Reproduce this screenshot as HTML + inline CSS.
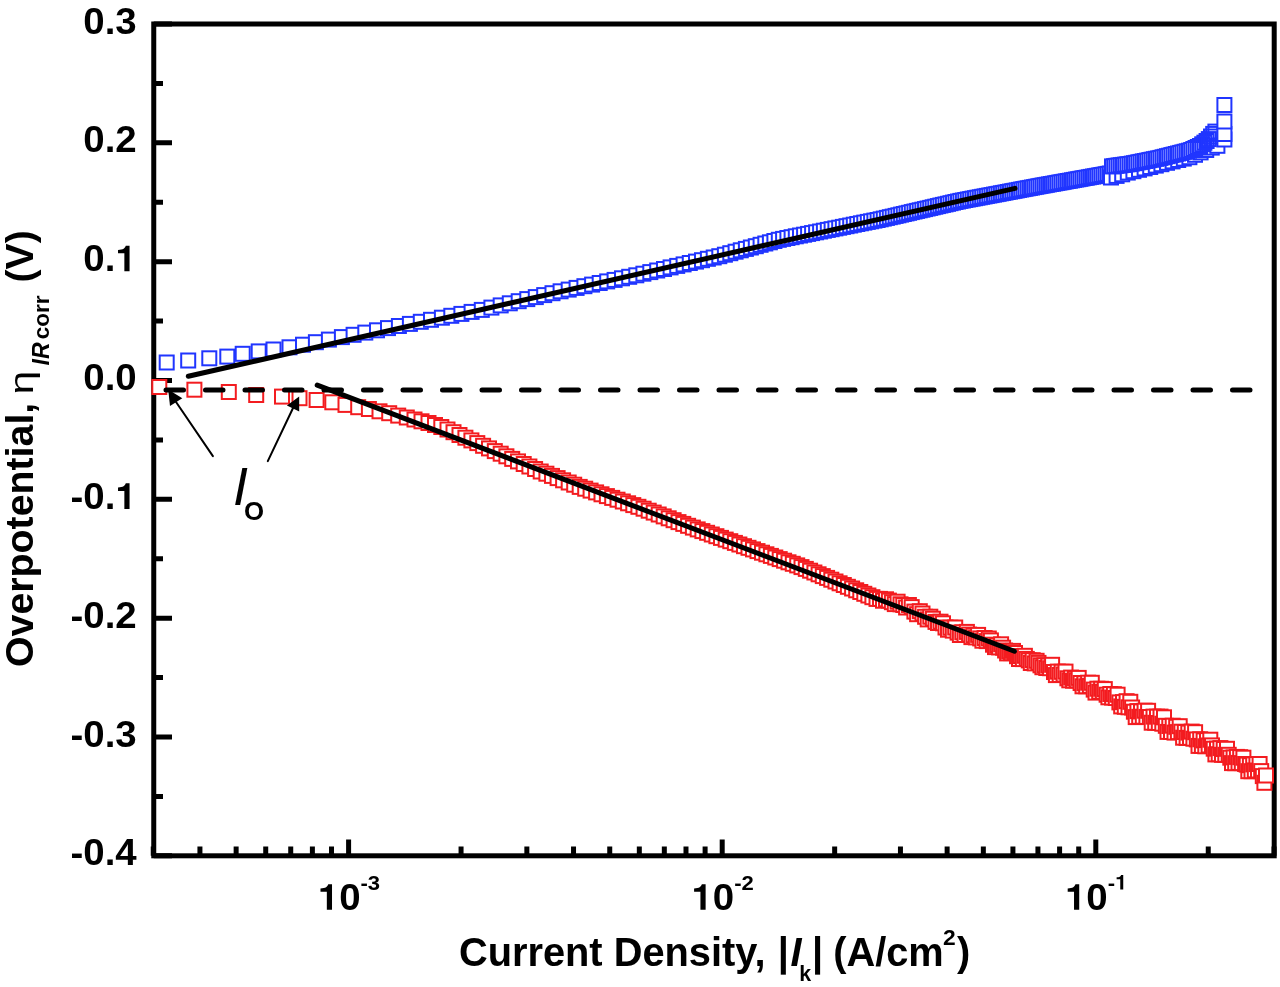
<!DOCTYPE html>
<html><head><meta charset="utf-8"><style>
html,body{margin:0;padding:0;background:#fff;}
body{width:1280px;height:987px;overflow:hidden;}
svg{display:block;}
#w{width:1280px;height:987px;will-change:transform;}
text{font-family:"Liberation Sans",sans-serif;}
</style></head><body><div id="w">
<svg width="1280" height="987" viewBox="0 0 1280 987">
<rect width="1280" height="987" fill="#fff"/>
<rect x="153.75" y="24.00" width="1120.45" height="831.80" fill="none" stroke="#000" stroke-width="5.0"/>
<path d="M153.75 24.00H172M153.75 83.41H163M153.75 142.83H172M153.75 202.24H163M153.75 261.66H172M153.75 321.07H163M153.75 380.49H172M153.75 439.90H163M153.75 499.31H172M153.75 558.73H163M153.75 618.14H172M153.75 677.56H163M153.75 736.97H172M153.75 796.39H163M153.75 855.80H172M153.25 855.80V846.5M199.93 855.80V846.5M236.14 855.80V846.5M265.72 855.80V846.5M290.73 855.80V846.5M312.39 855.80V846.5M331.51 855.80V846.5M348.60 855.80V839.5M461.06 855.80V846.5M526.85 855.80V846.5M573.53 855.80V846.5M609.74 855.80V846.5M639.32 855.80V846.5M664.33 855.80V846.5M685.99 855.80V846.5M705.11 855.80V846.5M722.20 855.80V839.5M834.66 855.80V846.5M900.45 855.80V846.5M947.13 855.80V846.5M983.34 855.80V846.5M1012.92 855.80V846.5M1037.93 855.80V846.5M1059.59 855.80V846.5M1078.71 855.80V846.5M1095.80 855.80V839.5M1208.26 855.80V846.5M1274.05 855.80V846.5" stroke="#000" stroke-width="5" fill="none"/>
<g fill="#fff" stroke="#2035ff" stroke-width="2.0"><rect x="159.7" y="355.5" width="14" height="14"/><rect x="181.2" y="353.5" width="14" height="14"/><rect x="202.3" y="351.3" width="14" height="14"/><rect x="220.3" y="349.6" width="14" height="14"/><rect x="235.7" y="346.8" width="14" height="14"/><rect x="251.7" y="344.4" width="14" height="14"/><rect x="266.5" y="342.5" width="14" height="14"/><rect x="282.5" y="340.3" width="14" height="14"/><rect x="296.0" y="337.7" width="14" height="14"/><rect x="308.9" y="335.2" width="14" height="14"/><rect x="321.9" y="332.6" width="14" height="14"/><rect x="334.9" y="330.1" width="14" height="14"/><rect x="346.6" y="327.8" width="14" height="14"/><rect x="358.3" y="325.6" width="14" height="14"/><rect x="370.0" y="323.3" width="14" height="14"/><rect x="381.0" y="321.1" width="14" height="14"/><rect x="391.9" y="319.0" width="14" height="14"/><rect x="402.9" y="316.9" width="14" height="14"/><rect x="413.8" y="314.8" width="14" height="14"/><rect x="424.0" y="312.8" width="14" height="14"/><rect x="434.9" y="310.7" width="14" height="14"/><rect x="444.3" y="308.8" width="14" height="14"/><rect x="454.4" y="306.9" width="14" height="14"/><rect x="464.6" y="304.9" width="14" height="14"/><rect x="474.8" y="302.9" width="14" height="14"/><rect x="484.4" y="300.6" width="14" height="14"/><rect x="493.7" y="298.4" width="14" height="14"/><rect x="502.8" y="296.3" width="14" height="14"/><rect x="511.7" y="294.2" width="14" height="14"/><rect x="520.3" y="292.1" width="14" height="14"/><rect x="528.8" y="290.1" width="14" height="14"/><rect x="537.2" y="288.1" width="14" height="14"/><rect x="545.5" y="286.2" width="14" height="14"/><rect x="553.6" y="284.3" width="14" height="14"/><rect x="561.7" y="282.6" width="14" height="14"/><rect x="569.6" y="280.9" width="14" height="14"/><rect x="577.4" y="279.2" width="14" height="14"/><rect x="585.1" y="277.6" width="14" height="14"/><rect x="592.7" y="276.0" width="14" height="14"/><rect x="600.2" y="274.4" width="14" height="14"/><rect x="607.6" y="272.9" width="14" height="14"/><rect x="615.0" y="271.3" width="14" height="14"/><rect x="622.2" y="269.8" width="14" height="14"/><rect x="629.3" y="268.3" width="14" height="14"/><rect x="636.4" y="266.7" width="14" height="14"/><rect x="643.3" y="265.1" width="14" height="14"/><rect x="650.2" y="263.5" width="14" height="14"/><rect x="657.0" y="262.0" width="14" height="14"/><rect x="663.6" y="260.4" width="14" height="14"/><rect x="670.2" y="258.9" width="14" height="14"/><rect x="676.6" y="257.4" width="14" height="14"/><rect x="682.8" y="256.0" width="14" height="14"/><rect x="689.0" y="254.6" width="14" height="14"/><rect x="695.0" y="253.2" width="14" height="14"/><rect x="700.9" y="251.8" width="14" height="14"/><rect x="706.7" y="250.5" width="14" height="14"/><rect x="712.3" y="249.2" width="14" height="14"/><rect x="717.9" y="247.7" width="14" height="14"/><rect x="723.3" y="246.2" width="14" height="14"/><rect x="728.6" y="244.7" width="14" height="14"/><rect x="733.8" y="243.3" width="14" height="14"/><rect x="738.9" y="241.9" width="14" height="14"/><rect x="743.9" y="240.5" width="14" height="14"/><rect x="748.8" y="239.2" width="14" height="14"/><rect x="753.6" y="237.8" width="14" height="14"/><rect x="758.3" y="236.5" width="14" height="14"/><rect x="762.9" y="235.3" width="14" height="14"/><rect x="767.4" y="234.0" width="14" height="14"/><rect x="771.8" y="232.8" width="14" height="14"/><rect x="776.1" y="231.9" width="14" height="14"/><rect x="780.4" y="231.0" width="14" height="14"/><rect x="784.6" y="230.2" width="14" height="14"/><rect x="788.8" y="229.3" width="14" height="14"/><rect x="793.0" y="228.5" width="14" height="14"/><rect x="797.1" y="227.7" width="14" height="14"/><rect x="801.1" y="226.9" width="14" height="14"/><rect x="805.1" y="226.1" width="14" height="14"/><rect x="809.1" y="225.3" width="14" height="14"/><rect x="813.1" y="224.5" width="14" height="14"/><rect x="816.9" y="223.7" width="14" height="14"/><rect x="820.8" y="222.9" width="14" height="14"/><rect x="824.6" y="222.2" width="14" height="14"/><rect x="828.4" y="221.4" width="14" height="14"/><rect x="832.2" y="220.7" width="14" height="14"/><rect x="835.9" y="219.9" width="14" height="14"/><rect x="839.5" y="219.2" width="14" height="14"/><rect x="843.2" y="218.5" width="14" height="14"/><rect x="846.8" y="217.7" width="14" height="14"/><rect x="850.3" y="217.0" width="14" height="14"/><rect x="853.9" y="216.3" width="14" height="14"/><rect x="857.3" y="215.6" width="14" height="14"/><rect x="860.8" y="214.9" width="14" height="14"/><rect x="864.1" y="214.3" width="14" height="14"/><rect x="867.4" y="213.6" width="14" height="14"/><rect x="870.6" y="213.0" width="14" height="14"/><rect x="873.7" y="212.3" width="14" height="14"/><rect x="876.8" y="211.6" width="14" height="14"/><rect x="879.9" y="210.9" width="14" height="14"/><rect x="882.8" y="210.2" width="14" height="14"/><rect x="885.7" y="209.6" width="14" height="14"/><rect x="888.6" y="208.9" width="14" height="14"/><rect x="891.4" y="208.3" width="14" height="14"/><rect x="894.1" y="207.6" width="14" height="14"/><rect x="896.8" y="207.0" width="14" height="14"/><rect x="899.5" y="206.4" width="14" height="14"/><rect x="902.1" y="205.8" width="14" height="14"/><rect x="904.8" y="205.1" width="14" height="14"/><rect x="907.5" y="204.5" width="14" height="14"/><rect x="910.1" y="203.9" width="14" height="14"/><rect x="912.7" y="203.3" width="14" height="14"/><rect x="915.4" y="202.7" width="14" height="14"/><rect x="918.0" y="202.1" width="14" height="14"/><rect x="920.6" y="201.5" width="14" height="14"/><rect x="923.2" y="200.9" width="14" height="14"/><rect x="925.7" y="200.3" width="14" height="14"/><rect x="928.3" y="199.7" width="14" height="14"/><rect x="930.9" y="199.1" width="14" height="14"/><rect x="933.4" y="198.5" width="14" height="14"/><rect x="935.9" y="197.9" width="14" height="14"/><rect x="938.5" y="197.4" width="14" height="14"/><rect x="941.0" y="196.8" width="14" height="14"/><rect x="943.5" y="196.2" width="14" height="14"/><rect x="946.0" y="195.6" width="14" height="14"/><rect x="948.5" y="195.0" width="14" height="14"/><rect x="951.0" y="194.5" width="14" height="14"/><rect x="953.4" y="193.9" width="14" height="14"/><rect x="955.9" y="193.5" width="14" height="14"/><rect x="958.3" y="193.0" width="14" height="14"/><rect x="960.8" y="192.5" width="14" height="14"/><rect x="963.2" y="192.1" width="14" height="14"/><rect x="965.6" y="191.6" width="14" height="14"/><rect x="968.0" y="191.2" width="14" height="14"/><rect x="970.4" y="190.7" width="14" height="14"/><rect x="972.8" y="190.3" width="14" height="14"/><rect x="975.2" y="189.8" width="14" height="14"/><rect x="977.6" y="189.4" width="14" height="14"/><rect x="979.9" y="188.9" width="14" height="14"/><rect x="982.3" y="188.5" width="14" height="14"/><rect x="984.6" y="188.1" width="14" height="14"/><rect x="987.0" y="187.6" width="14" height="14"/><rect x="989.3" y="187.2" width="14" height="14"/><rect x="991.6" y="186.8" width="14" height="14"/><rect x="993.9" y="186.3" width="14" height="14"/><rect x="996.2" y="185.9" width="14" height="14"/><rect x="998.5" y="185.5" width="14" height="14"/><rect x="1000.8" y="185.0" width="14" height="14"/><rect x="1003.0" y="184.6" width="14" height="14"/><rect x="1005.3" y="184.2" width="14" height="14"/><rect x="1007.5" y="183.8" width="14" height="14"/><rect x="1009.7" y="183.4" width="14" height="14"/><rect x="1012.0" y="182.9" width="14" height="14"/><rect x="1014.2" y="182.5" width="14" height="14"/><rect x="1016.4" y="182.1" width="14" height="14"/><rect x="1018.5" y="181.7" width="14" height="14"/><rect x="1020.7" y="181.3" width="14" height="14"/><rect x="1022.9" y="180.9" width="14" height="14"/><rect x="1025.0" y="180.5" width="14" height="14"/><rect x="1027.2" y="180.1" width="14" height="14"/><rect x="1029.3" y="179.7" width="14" height="14"/><rect x="1031.4" y="179.3" width="14" height="14"/><rect x="1033.5" y="178.9" width="14" height="14"/><rect x="1035.6" y="178.5" width="14" height="14"/><rect x="1037.7" y="178.2" width="14" height="14"/><rect x="1039.8" y="177.8" width="14" height="14"/><rect x="1041.9" y="177.4" width="14" height="14"/><rect x="1044.0" y="177.0" width="14" height="14"/><rect x="1046.1" y="176.7" width="14" height="14"/><rect x="1048.2" y="176.3" width="14" height="14"/><rect x="1050.3" y="175.9" width="14" height="14"/><rect x="1052.4" y="175.5" width="14" height="14"/><rect x="1054.5" y="175.2" width="14" height="14"/><rect x="1056.6" y="174.8" width="14" height="14"/><rect x="1058.7" y="174.4" width="14" height="14"/><rect x="1060.8" y="174.0" width="14" height="14"/><rect x="1062.9" y="173.7" width="14" height="14"/><rect x="1065.0" y="173.3" width="14" height="14"/><rect x="1067.1" y="172.9" width="14" height="14"/><rect x="1069.2" y="172.5" width="14" height="14"/><rect x="1071.3" y="172.2" width="14" height="14"/><rect x="1073.4" y="171.8" width="14" height="14"/><rect x="1075.5" y="171.4" width="14" height="14"/><rect x="1077.6" y="171.0" width="14" height="14"/><rect x="1079.7" y="170.7" width="14" height="14"/><rect x="1081.8" y="170.3" width="14" height="14"/><rect x="1083.9" y="169.9" width="14" height="14"/><rect x="1086.0" y="169.5" width="14" height="14"/><rect x="1088.1" y="169.2" width="14" height="14"/><rect x="1090.2" y="168.8" width="14" height="14"/><rect x="1092.3" y="168.4" width="14" height="14"/><rect x="1094.4" y="168.0" width="14" height="14"/><rect x="1096.5" y="167.7" width="14" height="14"/><rect x="1098.6" y="167.3" width="14" height="14"/><rect x="1100.7" y="166.9" width="14" height="14"/><rect x="1102.8" y="166.5" width="14" height="14"/><rect x="1104.0" y="170.5" width="14" height="14"/><rect x="1109.6" y="168.9" width="14" height="14"/><rect x="1115.2" y="167.3" width="14" height="14"/><rect x="1120.8" y="165.6" width="14" height="14"/><rect x="1126.4" y="164.2" width="14" height="14"/><rect x="1132.0" y="162.8" width="14" height="14"/><rect x="1137.6" y="161.4" width="14" height="14"/><rect x="1143.2" y="160.0" width="14" height="14"/><rect x="1148.8" y="158.6" width="14" height="14"/><rect x="1154.4" y="157.2" width="14" height="14"/><rect x="1160.0" y="155.8" width="14" height="14"/><rect x="1165.6" y="154.4" width="14" height="14"/><rect x="1171.2" y="153.0" width="14" height="14"/><rect x="1176.8" y="151.6" width="14" height="14"/><rect x="1182.4" y="150.2" width="14" height="14"/><rect x="1188.0" y="147.8" width="14" height="14"/><rect x="1193.6" y="145.4" width="14" height="14"/><rect x="1199.2" y="143.0" width="14" height="14"/><rect x="1204.8" y="140.6" width="14" height="14"/><rect x="1210.4" y="138.8" width="14" height="14"/><rect x="1105.0" y="159.4" width="14" height="14"/><rect x="1107.2" y="159.1" width="14" height="14"/><rect x="1109.4" y="158.8" width="14" height="14"/><rect x="1111.6" y="158.5" width="14" height="14"/><rect x="1113.8" y="158.2" width="14" height="14"/><rect x="1116.0" y="157.9" width="14" height="14"/><rect x="1118.2" y="157.6" width="14" height="14"/><rect x="1120.4" y="157.3" width="14" height="14"/><rect x="1122.6" y="157.1" width="14" height="14"/><rect x="1124.8" y="156.6" width="14" height="14"/><rect x="1127.0" y="156.2" width="14" height="14"/><rect x="1129.2" y="155.8" width="14" height="14"/><rect x="1131.4" y="155.3" width="14" height="14"/><rect x="1133.6" y="154.9" width="14" height="14"/><rect x="1135.8" y="154.4" width="14" height="14"/><rect x="1138.0" y="154.0" width="14" height="14"/><rect x="1140.2" y="153.6" width="14" height="14"/><rect x="1142.4" y="153.1" width="14" height="14"/><rect x="1144.6" y="152.7" width="14" height="14"/><rect x="1146.8" y="152.2" width="14" height="14"/><rect x="1149.0" y="151.8" width="14" height="14"/><rect x="1151.2" y="151.4" width="14" height="14"/><rect x="1153.4" y="150.9" width="14" height="14"/><rect x="1155.6" y="150.3" width="14" height="14"/><rect x="1157.8" y="149.8" width="14" height="14"/><rect x="1160.0" y="149.2" width="14" height="14"/><rect x="1162.2" y="148.7" width="14" height="14"/><rect x="1164.4" y="148.1" width="14" height="14"/><rect x="1166.6" y="147.6" width="14" height="14"/><rect x="1168.8" y="147.0" width="14" height="14"/><rect x="1171.0" y="146.5" width="14" height="14"/><rect x="1173.2" y="145.9" width="14" height="14"/><rect x="1175.4" y="145.4" width="14" height="14"/><rect x="1177.6" y="144.8" width="14" height="14"/><rect x="1179.8" y="144.3" width="14" height="14"/><rect x="1182.0" y="143.7" width="14" height="14"/><rect x="1184.2" y="143.0" width="14" height="14"/><rect x="1186.4" y="142.0" width="14" height="14"/></g>
<g fill="none" stroke="#2035ff" stroke-width="2.0"><rect x="1188.6" y="141.0" width="14" height="14"/><rect x="1190.8" y="140.0" width="14" height="14"/><rect x="1193.0" y="139.0" width="14" height="14"/><rect x="1195.2" y="137.3" width="14" height="14"/><rect x="1197.4" y="135.7" width="14" height="14"/><rect x="1199.6" y="134.0" width="14" height="14"/><rect x="1201.8" y="132.1" width="14" height="14"/><rect x="1204.0" y="129.5" width="14" height="14"/><rect x="1206.2" y="126.9" width="14" height="14"/><rect x="1208.4" y="124.6" width="14" height="14"/></g>
<g fill="#fff" stroke="#2035ff" stroke-width="2.0"><rect x="1217.4" y="132.5" width="14" height="14"/><rect x="1217.4" y="127.0" width="14" height="14"/><rect x="1217.4" y="114.5" width="14" height="14"/><rect x="1217.4" y="98.0" width="14" height="14"/></g>
<g fill="#fff" stroke="#f31c20" stroke-width="2.0"><rect x="152.3" y="380.0" width="14" height="14"/><rect x="187.4" y="382.7" width="14" height="14"/><rect x="221.8" y="385.0" width="14" height="14"/><rect x="249.2" y="388.0" width="14" height="14"/><rect x="275.0" y="389.6" width="14" height="14"/><rect x="292.5" y="391.2" width="14" height="14"/><rect x="309.6" y="393.0" width="14" height="14"/><rect x="325.3" y="395.3" width="14" height="14"/><rect x="338.5" y="397.9" width="14" height="14"/><rect x="351.2" y="400.2" width="14" height="14"/><rect x="361.9" y="402.0" width="14" height="14"/><rect x="372.5" y="404.3" width="14" height="14"/><rect x="382.2" y="406.2" width="14" height="14"/><rect x="391.2" y="408.6" width="14" height="14"/><rect x="399.8" y="410.5" width="14" height="14"/><rect x="407.5" y="412.5" width="14" height="14"/><rect x="414.5" y="414.3" width="14" height="14"/><rect x="421.5" y="416.0" width="14" height="14"/><rect x="428.0" y="418.0" width="14" height="14"/><rect x="434.3" y="420.0" width="14" height="14"/><rect x="440.5" y="422.5" width="14" height="14"/><rect x="446.5" y="425.2" width="14" height="14"/><rect x="452.5" y="428.0" width="14" height="14"/><rect x="458.4" y="430.7" width="14" height="14"/><rect x="464.4" y="433.4" width="14" height="14"/><rect x="470.3" y="436.1" width="14" height="14"/><rect x="476.1" y="438.8" width="14" height="14"/><rect x="482.0" y="441.4" width="14" height="14"/><rect x="487.8" y="444.1" width="14" height="14"/><rect x="493.7" y="446.7" width="14" height="14"/><rect x="499.4" y="449.3" width="14" height="14"/><rect x="505.2" y="451.9" width="14" height="14"/><rect x="511.0" y="454.4" width="14" height="14"/><rect x="516.7" y="457.0" width="14" height="14"/><rect x="522.4" y="459.5" width="14" height="14"/><rect x="528.1" y="462.0" width="14" height="14"/><rect x="533.7" y="464.5" width="14" height="14"/><rect x="539.4" y="466.7" width="14" height="14"/><rect x="545.0" y="468.9" width="14" height="14"/><rect x="550.6" y="471.1" width="14" height="14"/><rect x="556.1" y="473.3" width="14" height="14"/><rect x="561.7" y="475.5" width="14" height="14"/><rect x="567.2" y="477.7" width="14" height="14"/><rect x="572.7" y="479.9" width="14" height="14"/><rect x="578.2" y="481.7" width="14" height="14"/><rect x="583.6" y="483.6" width="14" height="14"/><rect x="589.1" y="485.4" width="14" height="14"/><rect x="594.5" y="487.3" width="14" height="14"/><rect x="599.9" y="489.1" width="14" height="14"/><rect x="605.2" y="490.9" width="14" height="14"/><rect x="610.5" y="492.7" width="14" height="14"/><rect x="615.8" y="494.5" width="14" height="14"/><rect x="621.1" y="496.3" width="14" height="14"/><rect x="626.3" y="498.1" width="14" height="14"/><rect x="631.4" y="499.8" width="14" height="14"/><rect x="636.6" y="501.7" width="14" height="14"/><rect x="641.7" y="503.7" width="14" height="14"/><rect x="646.7" y="505.6" width="14" height="14"/><rect x="651.7" y="507.5" width="14" height="14"/><rect x="656.7" y="509.4" width="14" height="14"/><rect x="661.7" y="511.3" width="14" height="14"/><rect x="666.6" y="513.2" width="14" height="14"/><rect x="671.5" y="515.1" width="14" height="14"/><rect x="676.3" y="516.9" width="14" height="14"/><rect x="681.1" y="518.8" width="14" height="14"/><rect x="685.9" y="520.6" width="14" height="14"/><rect x="690.7" y="522.4" width="14" height="14"/><rect x="695.4" y="524.1" width="14" height="14"/><rect x="700.1" y="525.8" width="14" height="14"/><rect x="704.8" y="527.5" width="14" height="14"/><rect x="709.4" y="529.2" width="14" height="14"/><rect x="714.0" y="530.9" width="14" height="14"/><rect x="718.7" y="532.6" width="14" height="14"/><rect x="723.3" y="534.2" width="14" height="14"/><rect x="727.9" y="535.9" width="14" height="14"/><rect x="732.4" y="537.5" width="14" height="14"/><rect x="737.0" y="539.2" width="14" height="14"/><rect x="741.5" y="540.8" width="14" height="14"/><rect x="746.0" y="542.4" width="14" height="14"/><rect x="750.5" y="544.1" width="14" height="14"/><rect x="755.0" y="545.7" width="14" height="14"/><rect x="759.4" y="547.3" width="14" height="14"/><rect x="763.9" y="548.9" width="14" height="14"/><rect x="768.3" y="550.5" width="14" height="14"/><rect x="772.7" y="552.1" width="14" height="14"/><rect x="777.1" y="553.7" width="14" height="14"/><rect x="781.5" y="555.3" width="14" height="14"/><rect x="785.8" y="556.8" width="14" height="14"/><rect x="790.2" y="558.4" width="14" height="14"/><rect x="794.5" y="560.1" width="14" height="14"/><rect x="798.8" y="561.9" width="14" height="14"/><rect x="803.1" y="563.7" width="14" height="14"/><rect x="807.4" y="565.5" width="14" height="14"/><rect x="811.6" y="567.3" width="14" height="14"/><rect x="815.8" y="569.1" width="14" height="14"/><rect x="820.1" y="570.9" width="14" height="14"/><rect x="824.3" y="572.7" width="14" height="14"/><rect x="828.5" y="574.5" width="14" height="14"/><rect x="832.6" y="576.3" width="14" height="14"/><rect x="836.8" y="578.0" width="14" height="14"/><rect x="840.9" y="579.8" width="14" height="14"/><rect x="845.1" y="581.5" width="14" height="14"/><rect x="849.2" y="583.3" width="14" height="14"/><rect x="853.3" y="585.0" width="14" height="14"/><rect x="857.3" y="586.8" width="14" height="14"/><rect x="861.4" y="588.5" width="14" height="14"/><rect x="865.4" y="590.2" width="14" height="14"/><rect x="869.5" y="591.9" width="14" height="14"/><rect x="873.0" y="591.9" width="14" height="14"/><rect x="876.0" y="593.7" width="14" height="14"/><rect x="879.0" y="592.3" width="14" height="14"/><rect x="881.9" y="593.6" width="14" height="14"/><rect x="884.9" y="595.2" width="14" height="14"/><rect x="887.8" y="597.1" width="14" height="14"/><rect x="890.6" y="594.7" width="14" height="14"/><rect x="893.5" y="597.3" width="14" height="14"/><rect x="896.3" y="598.0" width="14" height="14"/><rect x="899.1" y="600.5" width="14" height="14"/><rect x="901.9" y="598.0" width="14" height="14"/><rect x="904.7" y="600.1" width="14" height="14"/><rect x="907.4" y="604.6" width="14" height="14"/><rect x="910.1" y="607.2" width="14" height="14"/><rect x="912.8" y="604.2" width="14" height="14"/><rect x="915.5" y="606.5" width="14" height="14"/><rect x="918.1" y="609.8" width="14" height="14"/><rect x="920.7" y="612.4" width="14" height="14"/><rect x="923.3" y="609.7" width="14" height="14"/><rect x="925.9" y="611.7" width="14" height="14"/><rect x="928.5" y="614.9" width="14" height="14"/><rect x="931.0" y="616.0" width="14" height="14"/><rect x="933.5" y="614.7" width="14" height="14"/><rect x="936.0" y="616.3" width="14" height="14"/><rect x="938.5" y="620.5" width="14" height="14"/><rect x="941.0" y="622.7" width="14" height="14"/><rect x="943.4" y="620.7" width="14" height="14"/><rect x="945.8" y="623.6" width="14" height="14"/><rect x="948.2" y="620.5" width="14" height="14"/><rect x="950.6" y="625.6" width="14" height="14"/><rect x="952.9" y="628.0" width="14" height="14"/><rect x="955.3" y="625.3" width="14" height="14"/><rect x="957.6" y="627.9" width="14" height="14"/><rect x="959.9" y="624.9" width="14" height="14"/><rect x="962.1" y="627.6" width="14" height="14"/><rect x="964.4" y="630.1" width="14" height="14"/><rect x="966.6" y="628.3" width="14" height="14"/><rect x="968.9" y="630.4" width="14" height="14"/><rect x="971.1" y="627.9" width="14" height="14"/><rect x="973.2" y="631.4" width="14" height="14"/><rect x="975.4" y="633.7" width="14" height="14"/><rect x="977.6" y="631.0" width="14" height="14"/><rect x="979.7" y="634.1" width="14" height="14"/><rect x="981.8" y="631.5" width="14" height="14"/><rect x="983.9" y="633.4" width="14" height="14"/><rect x="986.0" y="637.7" width="14" height="14"/><rect x="988.0" y="640.1" width="14" height="14"/><rect x="990.1" y="638.0" width="14" height="14"/><rect x="992.1" y="640.4" width="14" height="14"/><rect x="994.1" y="637.3" width="14" height="14"/><rect x="996.1" y="640.7" width="14" height="14"/><rect x="998.1" y="643.5" width="14" height="14"/><rect x="1000.1" y="646.4" width="14" height="14"/><rect x="1002.1" y="644.3" width="14" height="14"/><rect x="1004.1" y="646.1" width="14" height="14"/><rect x="1006.0" y="643.9" width="14" height="14"/><rect x="1008.0" y="646.0" width="14" height="14"/><rect x="1010.0" y="649.2" width="14" height="14"/><rect x="1012.0" y="652.0" width="14" height="14"/><rect x="1013.9" y="649.1" width="14" height="14"/><rect x="1015.9" y="652.1" width="14" height="14"/><rect x="1017.9" y="648.8" width="14" height="14"/><rect x="1019.8" y="651.9" width="14" height="14"/><rect x="1021.8" y="653.4" width="14" height="14"/><rect x="1023.8" y="656.0" width="14" height="14"/><rect x="1025.7" y="653.2" width="14" height="14"/><rect x="1027.7" y="656.4" width="14" height="14"/><rect x="1029.6" y="653.8" width="14" height="14"/><rect x="1031.5" y="655.9" width="14" height="14"/><rect x="1033.5" y="658.3" width="14" height="14"/><rect x="1035.4" y="660.2" width="14" height="14"/><rect x="1037.4" y="658.3" width="14" height="14"/><rect x="1039.3" y="661.0" width="14" height="14"/><rect x="1041.2" y="658.6" width="14" height="14"/><rect x="1043.1" y="661.2" width="14" height="14"/><rect x="1045.1" y="657.8" width="14" height="14"/><rect x="1047.0" y="665.0" width="14" height="14"/><rect x="1048.9" y="668.1" width="14" height="14"/><rect x="1050.8" y="664.6" width="14" height="14"/><rect x="1052.7" y="667.9" width="14" height="14"/><rect x="1054.6" y="664.8" width="14" height="14"/><rect x="1056.6" y="667.5" width="14" height="14"/><rect x="1058.5" y="664.6" width="14" height="14"/><rect x="1060.4" y="671.3" width="14" height="14"/><rect x="1062.3" y="673.3" width="14" height="14"/><rect x="1064.1" y="670.6" width="14" height="14"/><rect x="1066.0" y="673.7" width="14" height="14"/><rect x="1067.9" y="671.4" width="14" height="14"/><rect x="1069.8" y="673.3" width="14" height="14"/><rect x="1071.7" y="670.9" width="14" height="14"/><rect x="1073.6" y="676.0" width="14" height="14"/><rect x="1075.5" y="679.3" width="14" height="14"/><rect x="1077.3" y="676.3" width="14" height="14"/><rect x="1079.2" y="679.3" width="14" height="14"/><rect x="1081.1" y="675.7" width="14" height="14"/><rect x="1082.9" y="678.8" width="14" height="14"/><rect x="1084.8" y="675.8" width="14" height="14"/><rect x="1086.7" y="682.6" width="14" height="14"/><rect x="1088.5" y="685.6" width="14" height="14"/><rect x="1090.4" y="681.7" width="14" height="14"/><rect x="1092.2" y="684.7" width="14" height="14"/><rect x="1094.1" y="681.8" width="14" height="14"/><rect x="1095.9" y="684.7" width="14" height="14"/><rect x="1097.8" y="682.1" width="14" height="14"/><rect x="1099.6" y="687.7" width="14" height="14"/><rect x="1101.4" y="690.3" width="14" height="14"/><rect x="1103.3" y="687.0" width="14" height="14"/><rect x="1105.1" y="690.6" width="14" height="14"/><rect x="1106.9" y="687.2" width="14" height="14"/><rect x="1108.8" y="691.0" width="14" height="14"/><rect x="1110.6" y="687.7" width="14" height="14"/><rect x="1112.4" y="695.4" width="14" height="14"/><rect x="1114.2" y="699.4" width="14" height="14"/><rect x="1116.0" y="695.1" width="14" height="14"/><rect x="1117.8" y="699.8" width="14" height="14"/><rect x="1119.6" y="694.2" width="14" height="14"/><rect x="1121.5" y="700.3" width="14" height="14"/><rect x="1123.3" y="694.8" width="14" height="14"/><rect x="1125.1" y="700.5" width="14" height="14"/><rect x="1126.9" y="704.7" width="14" height="14"/><rect x="1128.7" y="710.1" width="14" height="14"/><rect x="1130.4" y="704.1" width="14" height="14"/><rect x="1132.2" y="709.8" width="14" height="14"/><rect x="1134.0" y="704.4" width="14" height="14"/><rect x="1135.8" y="709.7" width="14" height="14"/><rect x="1137.6" y="703.7" width="14" height="14"/><rect x="1139.4" y="709.9" width="14" height="14"/><rect x="1141.1" y="703.8" width="14" height="14"/><rect x="1142.9" y="710.0" width="14" height="14"/><rect x="1144.7" y="715.7" width="14" height="14"/><rect x="1146.5" y="709.6" width="14" height="14"/><rect x="1148.2" y="715.8" width="14" height="14"/><rect x="1150.0" y="709.7" width="14" height="14"/><rect x="1151.8" y="716.0" width="14" height="14"/><rect x="1153.5" y="709.6" width="14" height="14"/><rect x="1155.3" y="716.7" width="14" height="14"/><rect x="1157.0" y="710.3" width="14" height="14"/><rect x="1158.8" y="718.8" width="14" height="14"/><rect x="1160.5" y="724.9" width="14" height="14"/><rect x="1162.3" y="719.0" width="14" height="14"/><rect x="1164.0" y="725.0" width="14" height="14"/><rect x="1165.7" y="718.7" width="14" height="14"/><rect x="1167.5" y="725.6" width="14" height="14"/><rect x="1169.2" y="719.8" width="14" height="14"/><rect x="1170.9" y="725.1" width="14" height="14"/><rect x="1172.7" y="719.2" width="14" height="14"/><rect x="1174.4" y="724.7" width="14" height="14"/><rect x="1176.1" y="730.7" width="14" height="14"/><rect x="1177.8" y="725.0" width="14" height="14"/><rect x="1179.6" y="730.9" width="14" height="14"/><rect x="1181.3" y="725.6" width="14" height="14"/><rect x="1183.0" y="730.8" width="14" height="14"/><rect x="1184.7" y="724.6" width="14" height="14"/><rect x="1186.4" y="731.7" width="14" height="14"/><rect x="1188.1" y="725.2" width="14" height="14"/><rect x="1189.8" y="732.4" width="14" height="14"/><rect x="1191.5" y="738.9" width="14" height="14"/><rect x="1193.2" y="732.3" width="14" height="14"/><rect x="1194.9" y="738.9" width="14" height="14"/><rect x="1196.6" y="733.4" width="14" height="14"/><rect x="1198.3" y="739.3" width="14" height="14"/><rect x="1200.0" y="733.1" width="14" height="14"/><rect x="1201.6" y="738.5" width="14" height="14"/><rect x="1203.3" y="732.7" width="14" height="14"/><rect x="1205.0" y="738.4" width="14" height="14"/><rect x="1206.7" y="741.7" width="14" height="14"/><rect x="1208.4" y="747.4" width="14" height="14"/><rect x="1210.0" y="741.7" width="14" height="14"/><rect x="1211.7" y="747.2" width="14" height="14"/><rect x="1213.4" y="741.1" width="14" height="14"/><rect x="1215.0" y="747.8" width="14" height="14"/><rect x="1216.7" y="742.0" width="14" height="14"/><rect x="1218.3" y="747.8" width="14" height="14"/><rect x="1220.0" y="741.8" width="14" height="14"/><rect x="1221.7" y="747.8" width="14" height="14"/><rect x="1223.3" y="750.7" width="14" height="14"/><rect x="1225.0" y="756.1" width="14" height="14"/><rect x="1226.6" y="750.4" width="14" height="14"/><rect x="1228.2" y="756.2" width="14" height="14"/><rect x="1229.9" y="749.9" width="14" height="14"/><rect x="1231.5" y="755.9" width="14" height="14"/><rect x="1233.2" y="750.2" width="14" height="14"/><rect x="1234.8" y="756.1" width="14" height="14"/><rect x="1236.4" y="750.7" width="14" height="14"/><rect x="1238.1" y="757.0" width="14" height="14"/><rect x="1239.7" y="757.6" width="14" height="14"/><rect x="1241.3" y="764.2" width="14" height="14"/><rect x="1242.9" y="758.2" width="14" height="14"/><rect x="1244.5" y="764.2" width="14" height="14"/><rect x="1246.2" y="757.4" width="14" height="14"/><rect x="1247.8" y="763.4" width="14" height="14"/><rect x="1249.4" y="757.1" width="14" height="14"/><rect x="1251.0" y="763.5" width="14" height="14"/><rect x="1252.6" y="757.0" width="14" height="14"/><rect x="1254.2" y="764.1" width="14" height="14"/><rect x="1255.8" y="769.1" width="14" height="14"/><rect x="1257.4" y="775.8" width="14" height="14"/><rect x="1259.0" y="768.5" width="14" height="14"/></g>
<line x1="163.5" y1="390" x2="1255" y2="390" stroke="#000" stroke-width="5" stroke-dasharray="17.5 22" stroke-linecap="round" transform="translate(2.5,0)"/>
<line x1="188.3" y1="376.25" x2="1015" y2="188.4" stroke="#000" stroke-width="5" stroke-linecap="round"/>
<line x1="317.2" y1="385.2" x2="1014.4" y2="651.25" stroke="#000" stroke-width="5" stroke-linecap="round"/>
<line x1="212.9" y1="456.1" x2="174" y2="399" stroke="#000" stroke-width="2" stroke-linecap="round"/>
<path d="M168.2 389.6L170 406L182.3 398.2z" fill="#000"/>
<line x1="267.8" y1="461.1" x2="294" y2="406" stroke="#000" stroke-width="2" stroke-linecap="round"/>
<path d="M299.2 396.4L286.9 405.5L299.2 411.4z" fill="#000"/>
<text y="33.60" font-size="36.60" font-weight="bold" transform="translate(83.28,0) scale(1.050,1)">0.3</text>
<text y="152.43" font-size="36.60" font-weight="bold" transform="translate(83.28,0) scale(1.050,1)">0.2</text>
<text y="271.26" font-size="36.60" font-weight="bold" transform="translate(83.28,0) scale(1.050,1)">0.</text><path d="M370 0L370-700L272-700C255-636 205-590 70-584L70-490L235-490L235 0Z" transform="translate(115.33,271.26) scale(0.03843,0.03660)"/>
<text y="390.09" font-size="36.60" font-weight="bold" transform="translate(83.28,0) scale(1.050,1)">0.0</text>
<text y="508.91" font-size="36.60" font-weight="bold" transform="translate(70.49,0) scale(1.050,1)">-0.</text><path d="M370 0L370-700L272-700C255-636 205-590 70-584L70-490L235-490L235 0Z" transform="translate(115.33,508.91) scale(0.03843,0.03660)"/>
<text y="627.74" font-size="36.60" font-weight="bold" transform="translate(70.49,0) scale(1.050,1)">-0.2</text>
<text y="746.57" font-size="36.60" font-weight="bold" transform="translate(70.49,0) scale(1.050,1)">-0.3</text>
<text y="865.40" font-size="36.60" font-weight="bold" transform="translate(70.49,0) scale(1.050,1)">-0.4</text>
<path d="M370 0L370-700L272-700C255-636 205-590 70-584L70-490L235-490L235 0Z" transform="translate(317.80,909.80) scale(0.03843,0.03660)"/><text y="909.80" font-size="36.60" font-weight="bold" transform="translate(339.17,0) scale(1.050,1)">0</text><text y="889.60" font-size="21.00" font-weight="bold" transform="translate(360.53,0) scale(1.050,1)">-3</text>
<path d="M370 0L370-700L272-700C255-636 205-590 70-584L70-490L235-490L235 0Z" transform="translate(691.40,909.80) scale(0.03843,0.03660)"/><text y="909.80" font-size="36.60" font-weight="bold" transform="translate(712.77,0) scale(1.050,1)">0</text><text y="889.60" font-size="21.00" font-weight="bold" transform="translate(734.13,0) scale(1.050,1)">-2</text>
<path d="M370 0L370-700L272-700C255-636 205-590 70-584L70-490L235-490L235 0Z" transform="translate(1065.00,909.80) scale(0.03843,0.03660)"/><text y="909.80" font-size="36.60" font-weight="bold" transform="translate(1086.37,0) scale(1.050,1)">0</text><text y="889.60" font-size="21.00" font-weight="bold" transform="translate(1107.73,0) scale(1.050,1)">-</text><path d="M370 0L370-700L272-700C255-636 205-590 70-584L70-490L235-490L235 0Z" transform="translate(1115.08,889.60) scale(0.02205,0.02100)"/>
<text x="458.9" y="966" font-size="39.8" font-weight="bold">Current Density,</text>
<text x="777.8" y="966" font-size="39.8" font-weight="bold">|</text>
<text x="790.4" y="966" font-size="39.8" font-weight="bold" font-style="italic">I</text>
<text x="799.3" y="981.2" font-size="21.4" font-weight="bold">k</text>
<text x="812" y="966" font-size="39.8" font-weight="bold">|</text>
<text x="833.2" y="966" font-size="39.8" font-weight="bold">(A/cm</text>
<text x="943.1" y="944.6" font-size="22.8" font-weight="bold">2</text>
<text x="957.1" y="966" font-size="39.8" font-weight="bold">)</text>
<g transform="translate(32.7,667) rotate(-90)"><text x="0" y="0" font-size="39.3" font-weight="bold">Overpotential,</text><text transform="translate(272.6,0) scale(1.276,1)" x="0" y="0" font-size="33.7">&#951;</text><text x="301.5" y="15.9" font-size="23" font-weight="bold" font-style="italic">IR</text><text x="327.8" y="15.9" font-size="22.5" font-weight="bold">corr</text><text x="384.5" y="0" font-size="39.2" font-weight="bold">(V)</text></g>
<text x="232.9" y="504.7" font-size="53.8" font-style="italic">I</text>
<text x="244" y="520" font-size="25.8" font-weight="bold">O</text>
</svg></div>
</body></html>
